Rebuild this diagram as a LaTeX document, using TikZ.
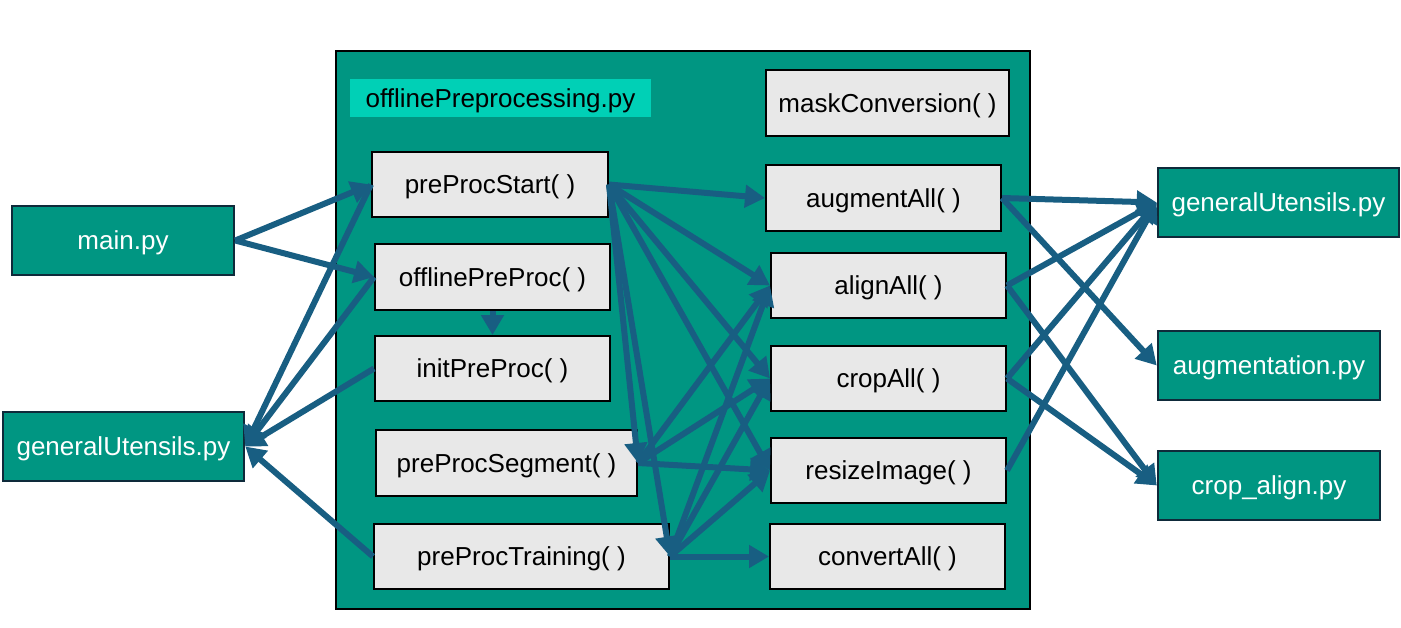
\documentclass[tikz,border=0pt]{standalone}
\usepackage{fontspec}
\setmainfont{Liberation Sans}
\usetikzlibrary{arrows.meta}
\definecolor{tealbg}{RGB}{0,150,130}
\definecolor{tealtitle}{RGB}{0,208,182}
\definecolor{boxgray}{RGB}{232,232,232}
\definecolor{arrowc}{RGB}{24,94,130}
\definecolor{navyb}{RGB}{14,42,58}
\begin{document}
\begin{tikzpicture}[x=1pt,y=-1pt,
  txt/.style={font=\fontsize{26}{30}\selectfont, inner sep=0pt, text depth=0pt},
  fnbox/.style={txt, draw=black, line width=2pt, fill=boxgray, text=black},
  filebox/.style={txt, draw=navyb, line width=2.5pt, fill=tealbg, text=white},
  arr/.style={draw=arrowc, line width=6pt, -{Triangle[length=20pt,width=22pt]}}
]
\useasboundingbox (0,0) rectangle (1401,627);

% container
\node[draw=black, line width=2.5pt, fill=tealbg, minimum width=694pt, minimum height=558pt, inner sep=0pt] (cont) at (683,330) {};
\node[txt, fill=tealtitle, text=black, minimum width=301pt, minimum height=38pt] (title) at (500.5,98) {offlinePreprocessing.py};

% left column functions
\node[fnbox, minimum width=236pt, minimum height=65pt] (start) at (490,184.5) {preProcStart( )};
\node[fnbox, minimum width=235pt, minimum height=66pt] (offline) at (492.5,277) {offlinePreProc( )};
\node[fnbox, minimum width=235pt, minimum height=65pt] (init) at (492.5,368.5) {initPreProc( )};
\node[fnbox, minimum width=261pt, minimum height=66pt] (segment) at (506.5,463) {preProcSegment( )};
\node[fnbox, minimum width=295pt, minimum height=65pt] (training) at (521.5,556.5) {preProcTraining( )};

% right column functions
\node[fnbox, minimum width=243pt, minimum height=66pt] (mask) at (887.5,103) {maskConversion( )};
\node[fnbox, minimum width=235pt, minimum height=66pt] (augment) at (883.5,198) {augmentAll( )};
\node[fnbox, minimum width=235pt, minimum height=65pt] (align) at (888.5,285.5) {alignAll( )};
\node[fnbox, minimum width=235pt, minimum height=65pt] (crop) at (888.5,378.5) {cropAll( )};
\node[fnbox, minimum width=235pt, minimum height=65pt] (resize) at (888.5,470.5) {resizeImage( )};
\node[fnbox, minimum width=235pt, minimum height=65pt] (convert) at (887.5,556.5) {convertAll( )};

% outside files
\node[filebox, minimum width=222pt, minimum height=69pt] (main) at (123,240.5) {main.py};
\node[filebox, minimum width=241pt, minimum height=69pt] (genL) at (123.5,446.5) {generalUtensils.py};
\node[filebox, minimum width=241pt, minimum height=69pt] (genR) at (1278.5,202.5) {generalUtensils.py};
\node[filebox, minimum width=222pt, minimum height=69pt] (augpy) at (1269,365.5) {augmentation.py};
\node[filebox, minimum width=222pt, minimum height=69pt] (croppy) at (1269,485.5) {crop\_align.py};

% left arrows
\draw[arr] (main.east) -- (start.west);
\draw[arr] (main.east) -- (offline.west);
\draw[arr] (start.west) -- (genL.east);
\draw[arr] (offline.west) -- (genL.east);
\draw[arr] (init.west) -- (genL.east);
\draw[arr] (training.west) -- (genL.east);
\draw[arr] (offline.south) -- (init.north);

% preProcStart arrows
\draw[arr] (start.east) -- (augment.west);
\draw[arr] (start.east) -- (align.west);
\draw[arr] (start.east) -- (crop.west);
\draw[arr] (start.east) -- (resize.west);
\draw[arr] (start.east) -- (segment.east);
\draw[arr] (start.east) -- (training.east);

% preProcSegment arrows
\draw[arr] (segment.east) -- (align.west);
\draw[arr] (segment.east) -- (crop.west);
\draw[arr] (segment.east) -- (resize.west);

% preProcTraining arrows
\draw[arr] (training.east) -- (align.west);
\draw[arr] (training.east) -- (crop.west);
\draw[arr] (training.east) -- (resize.west);
\draw[arr] (training.east) -- (convert.west);

% right arrows
\draw[arr] (augment.east) -- (genR.west);
\draw[arr] (augment.east) -- (augpy.west);
\draw[arr] (align.east) -- (genR.west);
\draw[arr] (align.east) -- (croppy.west);
\draw[arr] (crop.east) -- (genR.west);
\draw[arr] (crop.east) -- (croppy.west);
\draw[arr] (resize.east) -- (genR.west);
\end{tikzpicture}
\end{document}
